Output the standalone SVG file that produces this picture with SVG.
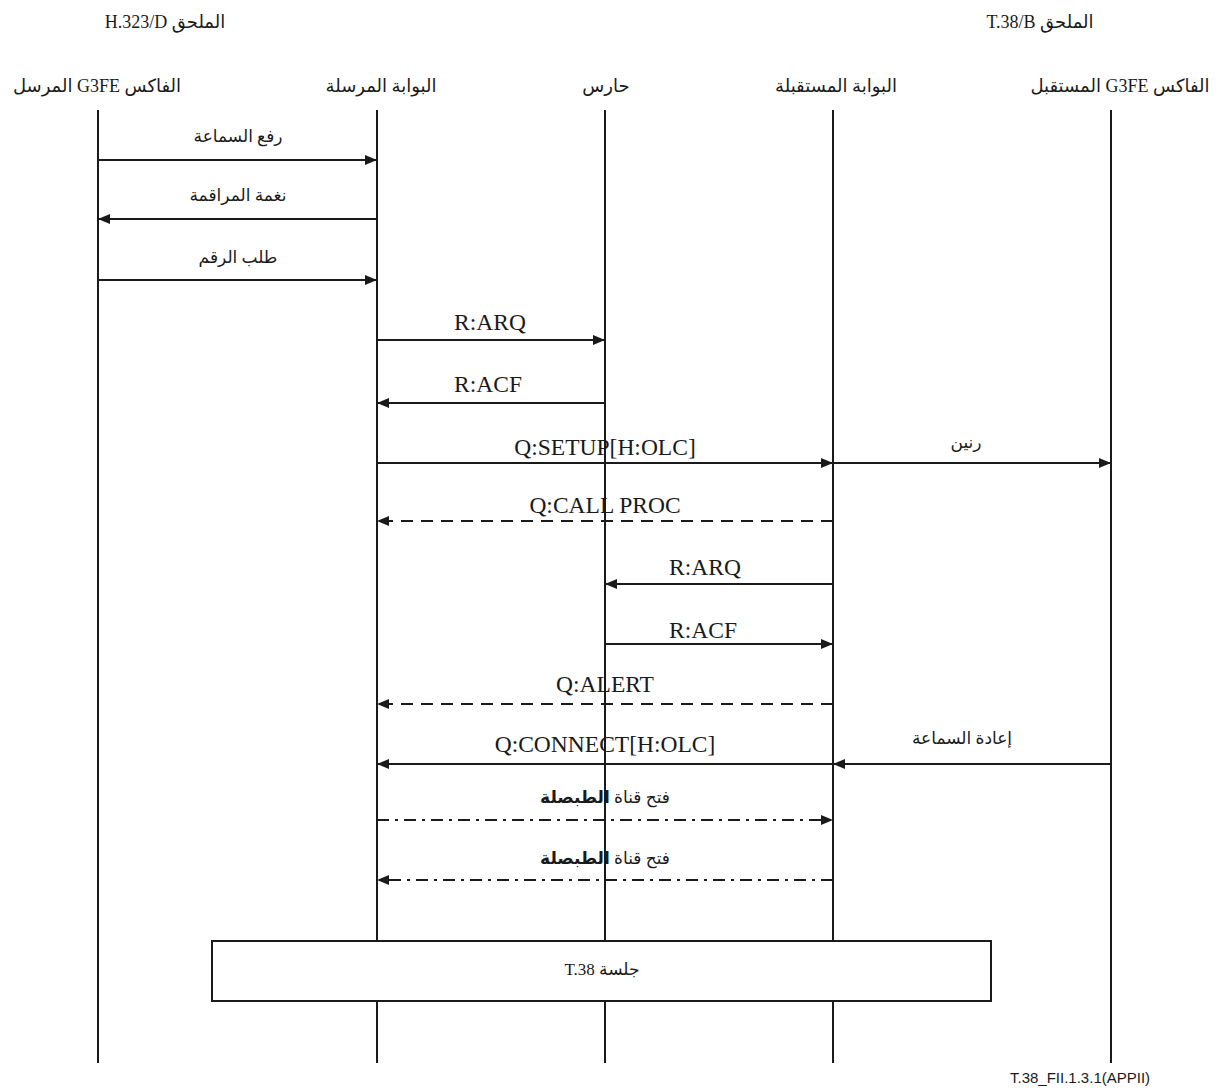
<svg xmlns="http://www.w3.org/2000/svg" width="1219" height="1091" viewBox="0 0 1219 1091">
<style>
.t{font-family:"Liberation Serif","DejaVu Sans",serif;font-size:23.5px;fill:#1a1a1a;text-anchor:middle}
.a{font-family:"Liberation Serif","DejaVu Sans",serif;font-size:17px;fill:#1a1a1a;text-anchor:middle;direction:rtl;unicode-bidi:embed}
.h{font-size:18px}
.l{font-family:"Liberation Serif",serif}
.life{stroke:#1a1a1a;stroke-width:2;fill:none}
.m{stroke:#1a1a1a;stroke-width:1.8;fill:none;marker-end:url(#ah)}
.d{stroke-dasharray:12 8}
.dd{stroke-dasharray:12 6 3 6}
.fn{font-family:"Liberation Sans",Arial,sans-serif;font-size:15px;fill:#1a1a1a}
</style>
<defs>
<marker id="ah" markerWidth="13" markerHeight="10" refX="12" refY="5" orient="auto" markerUnits="userSpaceOnUse">
<path d="M0,0 L12,5 L0,10 z" fill="#1a1a1a"/>
</marker>
</defs>
<rect width="1219" height="1091" fill="#fff"/>
<g id="annex-labels">
<text class="a h" x="165" y="28">الملحق <tspan class="l">H.323/D</tspan></text>
<text class="a h" x="1040" y="28">الملحق <tspan class="l">T.38/B</tspan></text>
</g>
<g id="node-sending-fax">
<text class="a h" x="97" y="92">الفاكس <tspan class="l">G3FE</tspan> المرسل</text>
<line class="life" x1="98" y1="110" x2="98" y2="1063"/>
</g>
<g id="node-sending-gw">
<text class="a h" x="381" y="92">البوابة المرسلة</text>
<line class="life" x1="377" y1="110" x2="377" y2="1063"/>
</g>
<g id="node-gatekeeper">
<text class="a h" x="606" y="92">حارس</text>
<line class="life" x1="605" y1="110" x2="605" y2="1063"/>
</g>
<g id="node-receiving-gw">
<text class="a h" x="836" y="92">البوابة المستقبلة</text>
<line class="life" x1="833" y1="110" x2="833" y2="1063"/>
</g>
<g id="node-receiving-fax">
<text class="a h" x="1120" y="92">الفاكس <tspan class="l">G3FE</tspan> المستقبل</text>
<line class="life" x1="1111" y1="110" x2="1111" y2="1063"/>
</g>
<g id="connectors">
<line class="m" x1="98" y1="160" x2="377" y2="160"/>
<line class="m" x1="377" y1="219" x2="98" y2="219"/>
<line class="m" x1="98" y1="280" x2="377" y2="280"/>
<line class="m" x1="377" y1="340" x2="605" y2="340"/>
<line class="m" x1="605" y1="403" x2="377" y2="403"/>
<line class="m" x1="377" y1="463" x2="833" y2="463"/>
<line class="m" x1="833" y1="463" x2="1111" y2="463"/>
<line class="m d" x1="833" y1="521" x2="377" y2="521"/>
<line class="m" x1="833" y1="584" x2="605" y2="584"/>
<line class="m" x1="605" y1="644" x2="833" y2="644"/>
<line class="m d" x1="833" y1="704" x2="377" y2="704"/>
<line class="m" x1="833" y1="764" x2="377" y2="764"/>
<line class="m" x1="1111" y1="764" x2="833" y2="764"/>
<line class="m dd" x1="377" y1="820" x2="833" y2="820"/>
<line class="m dd" x1="833" y1="880" x2="377" y2="880"/>
</g>
<g id="labels">
<text class="a" x="238" y="142">رفع السماعة</text>
<text class="a" x="238" y="201">نغمة المراقمة</text>
<text class="a" x="238" y="263">طلب الرقم</text>
<text class="t" x="490" y="330">R:ARQ</text>
<text class="t" x="488" y="392">R:ACF</text>
<text class="t" x="605" y="455">Q:SETUP[H:OLC]</text>
<text class="a" x="966" y="448">رنين</text>
<text class="t" x="605" y="513">Q:CALL PROC</text>
<text class="t" x="705" y="575">R:ARQ</text>
<text class="t" x="703" y="638">R:ACF</text>
<text class="t" x="605" y="692">Q:ALERT</text>
<text class="t" x="605" y="752">Q:CONNECT[H:OLC]</text>
<text class="a" x="962" y="744">إعادة السماعة</text>
<text class="a" x="605" y="803">فتح قناة <tspan font-weight="bold">الطبصلة</tspan></text>
<text class="a" x="605" y="864">فتح قناة <tspan font-weight="bold">الطبصلة</tspan></text>
</g>
<g id="node-t38-session">
<rect x="212" y="941" width="779" height="60" fill="#fff" stroke="#1a1a1a" stroke-width="2"/>
<text class="a" x="602" y="975">جلسة <tspan class="l">T.38</tspan></text>
</g>
<text class="fn" x="1010" y="1083">T.38_FII.1.3.1(APPII)</text>
</svg>
